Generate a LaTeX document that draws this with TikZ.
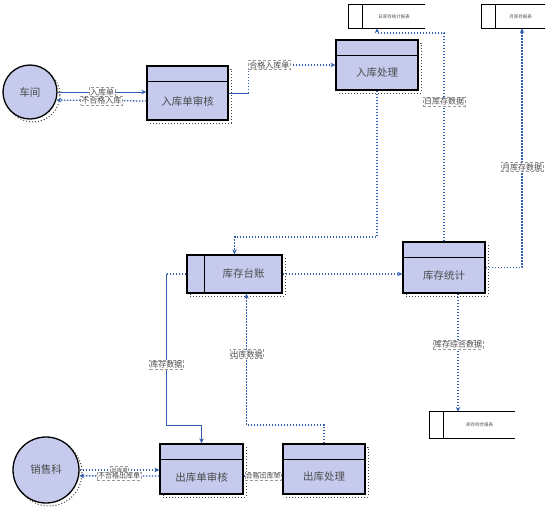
\documentclass[tikz,border=0pt]{standalone}
\usepackage{fontspec}
\setmainfont{Noto Sans CJK SC}
\usetikzlibrary{positioning, arrows.meta, shadows}

\definecolor{flowblue}{RGB}{50,95,175}
\definecolor{boxfill}{RGB}{198,203,238}
\definecolor{txtgray}{RGB}{75,75,75}

\tikzset{
  dotshadow/.style={general shadow={shadow xshift=3pt, shadow yshift=-3pt,
      draw=black!75, dotted, line width=1pt}},
  procbox/.style={draw=black, line width=1.3pt, fill=boxfill, dotshadow,
      inner sep=0pt},
  extent/.style={circle, draw=black, line width=1.3pt, fill=boxfill, dotshadow,
      font=\fontsize{10.5}{12}\selectfont, text=txtgray},
  boxtext/.style={font=\fontsize{10.5}{12}\selectfont, text=txtgray},
  store/.style={inner sep=0pt},
  storetext/.style={font=\fontsize{4.5}{5}\selectfont, text=black!70},
  lbl/.style={draw=black!40, densely dashed, line width=0.4pt, fill=white,
      inner sep=0.8pt, font=\fontsize{8}{9}\selectfont, text=txtgray},
  flow/.style={draw=flowblue, line width=0.9pt},
  dotflow/.style={draw=flowblue, line width=1.3pt, dash pattern=on 1.4pt off 1.6pt},
  tip/.style={-{Stealth[length=5pt,width=4.5pt]}}
}

\begin{document}
\begin{tikzpicture}[x=1pt,y=-1pt]
\useasboundingbox (0,0) rectangle (554,512);

% external entities
\node[extent, minimum size=54pt] (cj) at (30,92) {车间};
\node[extent, minimum size=66pt] (xsk) at (46,470) {销售科};

% processes
\node[procbox, minimum width=81pt, minimum height=54pt] (rsh) at (187.5,93) {};
\node[procbox, minimum width=82pt, minimum height=50pt] (rkcl) at (377,65) {};
\node[procbox, minimum width=95pt, minimum height=38pt] (kctz) at (234.5,274) {};
\node[procbox, minimum width=82pt, minimum height=51pt] (kctj) at (444,267.5) {};
\node[procbox, minimum width=83pt, minimum height=50pt] (ckdsh) at (201.5,469) {};
\node[procbox, minimum width=82pt, minimum height=50pt] (ckcl) at (324,469) {};

\foreach \p in {rsh,rkcl,kctj,ckdsh,ckcl}
  \draw[line width=1.3pt] ([yshift=-16pt]\p.north west) -- ([yshift=-16pt]\p.north east);
\draw[line width=1.3pt] ([xshift=18pt]kctz.north west) -- ([xshift=18pt]kctz.south west);

\node[boxtext] (rsh-t) at ([yshift=-8pt]rsh.center) {入库单审核};
\node[boxtext] (rkcl-t) at ([yshift=-8pt]rkcl.center) {入库处理};
\node[boxtext] (kctz-t) at ([xshift=9pt]kctz.center) {库存台账};
\node[boxtext] (kctj-t) at ([yshift=-8pt]kctj.center) {库存统计};
\node[boxtext] (ckdsh-t) at ([yshift=-8pt]ckdsh.center) {出库单审核};
\node[boxtext] (ckcl-t) at ([yshift=-8pt]ckcl.center) {出库处理};

% data stores
\node[store, minimum width=76pt, minimum height=23pt] (ds1) at (387,16.5) {};
\node[store, minimum width=63pt, minimum height=23pt] (ds2) at (513.5,16.5) {};
\node[store, minimum width=85pt, minimum height=26pt] (ds3) at (472.5,425) {};
\foreach \s in {ds1,ds2,ds3} {
  \draw[line width=1.3pt] (\s.north east) -- (\s.north west) -- (\s.south west) -- (\s.south east);
  \draw[line width=1.3pt] ([xshift=14pt]\s.north west) -- ([xshift=14pt]\s.south west);
}
\node[storetext] (ds1-t) at ([xshift=7pt]ds1.center) {日库存统计报表};
\node[storetext] (ds2-t) at ([xshift=7pt]ds2.center) {月库存报表};
\node[storetext] (ds3-t) at ([xshift=7pt]ds3.center) {库存综合报表};

% inbound flows
\draw[flow, tip] (cj.east) -- node[lbl] {入库单} (cj.east -| rsh.west);
\draw[dotflow, tip] ([yshift=-8pt]rsh.west) -- node[lbl] {不合格入库} (cj.-17);
\draw[flow] (rsh.east) -- ++(20,0) coordinate (k1);
\draw[dotflow, tip] (k1) |- node[lbl, pos=0.62] {合格入库单} (rkcl.west);
\draw[dotflow, tip] (rkcl.south) -- (rkcl.south |- 0,237) -| (kctz.north);

% statistics
\draw[dotflow, tip] (kctz.east) -- (kctz.east -| kctj.west);
\draw[dotflow, tip] (kctj.north) -- node[lbl, pos=0.67] {日库存数据} (kctj.north |- 0,33)
  -| ([xshift=-10pt]ds1.south);
\draw[dotflow, tip] (kctj.east) -| node[lbl, pos=0.71] {月库存数据} ([xshift=8.5pt]ds2.south);
\draw[dotflow, tip] ([xshift=14pt]kctj.south) -- node[lbl, pos=0.43] {库存综合数据}
  ([xshift=14pt]kctj.south |- ds3.north);

% outbound flows
\draw[dotflow] (kctz.west) -- ++(-20,0) coordinate (k2);
\draw[flow, tip] (k2) -- node[lbl, pos=0.6] {库存数据} (k2 |- 0,425) -| (ckdsh.north);
\draw[dotflow, tip] (ckcl.north) -- (ckcl.north |- 0,425) -|
  node[lbl, pos=0.77] {出库数据} ([xshift=12pt]kctz.south);
\draw[dotflow, tip] (xsk.east) -- node[lbl, font=\fontsize{5.5}{6}\selectfont] {出库单}
  (xsk.east -| ckdsh.west);
\draw[dotflow, tip] ([yshift=-7pt]ckdsh.west) -- node[lbl, font=\fontsize{7}{8}\selectfont] {不合格出库单}
  (xsk.-10);
\draw[dotflow, tip] ([yshift=-7pt]ckdsh.east) -- node[lbl, font=\fontsize{7}{8}\selectfont] {合格出库单}
  ([yshift=-7pt]ckcl.west);
\end{tikzpicture}
\end{document}
